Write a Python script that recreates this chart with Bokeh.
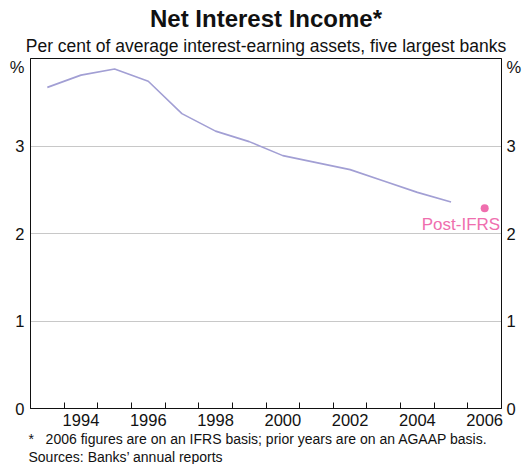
from bokeh.plotting import figure
from bokeh.models import (FixedTicker, LinearAxis, Title, ColumnDataSource, Range1d,
                          CustomJSTickFormatter)
from bokeh.core.properties import value
from bokeh.embed import file_html
from bokeh.resources import INLINE

# Data (mid-year values)
years = [1993, 1994, 1995, 1996, 1997, 1998, 1999, 2000, 2001, 2002, 2003, 2004, 2005]
nim = [3.67, 3.81, 3.88, 3.74, 3.37, 3.17, 3.05, 2.89, 2.81, 2.73, 2.60, 2.47, 2.36]
ifrs_year = [2006]
ifrs_nim = [2.29]
ifrs_label = ["Post-IFRS"]
y_ticks = [0, 1, 2, 3]
y_labels = ["0", "1", "2", "3", "%"]
label_years = [1994, 1996, 1998, 2000, 2002, 2004, 2006]
year_ticks = list(range(1994, 2007))

FONT = "Liberation Sans"
LINE_COLOR = "#a29fd4"
PINK = "#ef6eae"
TXT = "#111111"
FRAME = "#111111"

X_MIN, X_MAX = 1993, 2007
Y_MAX = 4
FRAME_H = 350        # frame height in px
UNIT_DROP = 8        # "%" sits this many px below the frame top
scale = FRAME_H / (FRAME_H - UNIT_DROP)

p = figure(width=524, height=464, x_range=(X_MIN, X_MAX), y_range=(0, Y_MAX),
           output_backend="svg", toolbar_location=None,
           min_border_left=30, min_border_right=20, min_border_top=58, min_border_bottom=56,
           y_axis_location=None)
p.extra_y_ranges = {"lab": Range1d(0, Y_MAX * scale)}
p.background_fill_color = "white"
p.border_fill_color = "white"
p.outline_line_color = FRAME
p.outline_line_width = 1

# grid
p.xgrid.visible = False
p.ygrid.ticker = FixedTicker(ticks=[1, 2, 3])
p.ygrid.grid_line_color = "#c8c8c8"
p.ygrid.grid_line_width = 1

# data line and post-IFRS point
src = ColumnDataSource(dict(x=[y + 0.5 for y in years], y=nim))
p.line("x", "y", source=src, line_color=LINE_COLOR, line_width=1.6)
p.scatter([y + 0.5 for y in ifrs_year], ifrs_nim, size=8, color=PINK, line_color=None)
p.text(x=[2006.96], y=[2.10], text=ifrs_label, text_align="right", text_baseline="middle",
       text_color=PINK, text_font=value(FONT), text_font_size="17px")

# x axis: labels mid-year, inward ticks at year boundaries
xa = p.xaxis[0]
xa.ticker = FixedTicker(ticks=[y + 0.5 for y in label_years], minor_ticks=year_ticks)
xa.major_label_overrides = {y + 0.5: str(y) for y in label_years}
xa.major_tick_in = 0
xa.major_tick_out = 0
xa.minor_tick_in = 6
xa.minor_tick_out = 0
xa.minor_tick_line_color = FRAME
xa.minor_tick_line_width = 1
xa.axis_line_color = FRAME
xa.axis_line_width = 1
xa.major_label_text_font = FONT
xa.major_label_text_font_size = "16.5px"
xa.major_label_text_color = TXT
xa.major_label_standoff = 5

# y axes (on the label range so that "%" sits just below the frame top)
lab_ticks = [t * scale for t in y_ticks] + [Y_MAX]
fmt = CustomJSTickFormatter(args=dict(labels=y_labels), code="return labels[index];")
for side in ["left", "right"]:
    ax = LinearAxis(y_range_name="lab")
    ax.ticker = FixedTicker(ticks=lab_ticks, minor_ticks=[])
    ax.formatter = fmt
    ax.major_tick_in = 0
    ax.major_tick_out = 0
    ax.minor_tick_in = 0
    ax.minor_tick_out = 0
    ax.axis_line_color = FRAME
    ax.axis_line_width = 1
    ax.major_label_text_font = FONT
    ax.major_label_text_font_size = "16.5px"
    ax.major_label_text_color = TXT
    ax.major_label_standoff = 6 if side == "left" else 5
    p.add_layout(ax, side)

# titles
p.add_layout(Title(text="Per cent of average interest-earning assets, five largest banks",
                   align="center", text_font=FONT, text_font_size="17.5px",
                   text_font_style="normal", text_color=TXT, standoff=5), "above")
p.add_layout(Title(text="Net Interest Income*", align="center", text_font=FONT,
                   text_font_size="24px", text_font_style="bold", text_color=TXT,
                   standoff=0), "above")

# footnotes
p.add_layout(Title(text="*\u00a0\u00a0\u00a02006 figures are on an IFRS basis; prior years are on an AGAAP basis.",
                   align="left", text_font=FONT, text_font_size="14px",
                   text_font_style="normal", text_color=TXT, offset=-2, standoff=0), "below")
p.add_layout(Title(text="Sources: Banks\u2019 annual reports",
                   align="left", text_font=FONT, text_font_size="14px",
                   text_font_style="normal", text_color=TXT, offset=-2, standoff=0), "below")

open("out.html", "w").write(file_html(p, INLINE))
